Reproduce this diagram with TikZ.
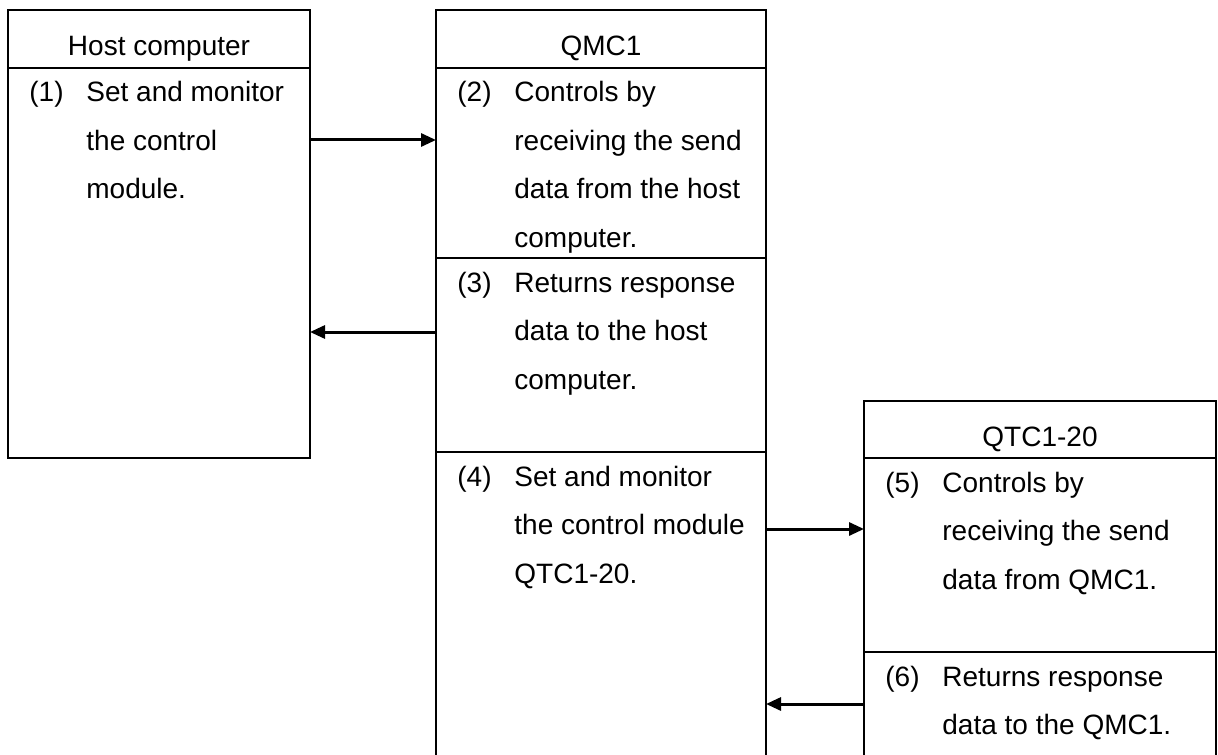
\documentclass[tikz,border=0pt]{standalone}
\usepackage{fontspec}
\setmainfont{Liberation Sans}
\usetikzlibrary{positioning}
\usetikzlibrary{arrows.meta,calc}

\tikzset{
  cell/.style={draw, line width=0.6pt, rectangle, inner sep=0pt, outer sep=0pt, anchor=north west},
  title/.style={font=\fontsize{14pt}{24.25pt}\selectfont, anchor=base, inner sep=0pt},
  num/.style={font=\fontsize{14pt}{24.25pt}\selectfont, anchor=base west, inner sep=0pt},
  txt/.style={font=\fontsize{14pt}{24.25pt}\selectfont, anchor=base west, inner sep=0pt},
  flow/.style={-{Triangle[length=7.5pt,width=6.5pt]}, line width=1.5pt}
}

% one numbered entry inside a cell
\newcommand{\cellitem}[3]{%
  \node[num] (#1-num) at ($(#1.north west)+(21,34)$) {(#2)};
  \node[txt] (#1-txt) at ($(#1.north west)+(78,34)$) {\begin{tabular}[t]{@{}l@{}}#3\end{tabular}};
}

\begin{document}
\begin{tikzpicture}[x=0.5pt, y=-0.5pt]
 \useasboundingbox (0,0) rectangle (1218,754);
 \clip (0,0) rectangle (1218,754);

 % boxes
 \foreach \n/\x/\y/\w/\h in {hostH/8/10/151pt/29pt, host1/8/68/151pt/195pt,
     qmcH/436/10/165pt/29pt, qmc2/436/68/165pt/95pt, qmc3/436/258/165pt/97pt, qmc4/436/452/165pt/160pt,
     qtcH/864/401/176pt/28.5pt, qtc5/864/458/176pt/97pt, qtc6/864/652/176pt/60pt} {
   \node[cell, minimum width=\w, minimum height=\h] (\n) at (\x,\y) {};
 }

 % titles
 \node[title] (host-title) at ($(hostH.south)+(0,-12)$) {Host computer};
 \node[title] (qmc-title) at ($(qmcH.south)+(0,-12)$) {QMC1};
 \node[title] (qtc-title) at ($(qtcH.south)+(0,-12)$) {QTC1-20};

 % entries
 \cellitem{host1}{1}{Set and monitor\\the control\\module.}
 \cellitem{qmc2}{2}{Controls by\\receiving the send\\data from the host\\computer.}
 \cellitem{qmc3}{3}{Returns response\\data to the host\\computer.}
 \cellitem{qmc4}{4}{Set and monitor\\the control module\\QTC1-20.}
 \cellitem{qtc5}{5}{Controls by\\receiving the send\\data from QMC1.}
 \cellitem{qtc6}{6}{Returns response\\data to the QMC1.}

 % arrows
 \draw[flow] ($(host1.north east)+(0,72)$) -- ($(qmc2.north west)+(0,72)$);
 \draw[flow] ($(qmc3.north west)+(0,74)$) -- ($(host1.north east)+(0,264)$);
 \draw[flow] ($(qmc4.north east)+(0,77)$) -- ($(qtc5.north west)+(0,71)$);
 \draw[flow] ($(qtc6.north west)+(0,52)$) -- ($(qmc4.north east)+(0,252)$);

\end{tikzpicture}
\end{document}
